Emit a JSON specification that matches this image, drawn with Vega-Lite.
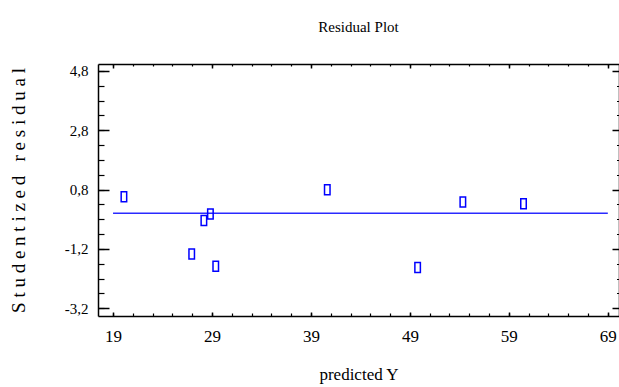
{
  "$schema": "https://vega.github.io/schema/vega-lite/v6.json",
  "width": 521,
  "height": 252,
  "autosize": {"type": "none"},
  "padding": {"left": 98, "top": 64, "right": 0, "bottom": 71},
  "background": "white",
  "config": {
    "font": "Liberation Serif, Times New Roman, serif",
    "view": {"stroke": null},
    "axis": {"grid": false, "labelFont": "Liberation Serif, Times New Roman, serif", "titleFont": "Liberation Serif, Times New Roman, serif", "labelColor": "black", "titleColor": "black", "domainColor": "black", "tickColor": "black", "labelFlush": false, "labelOverlap": false, "titleFontWeight": "normal"}
  },
  "title": {"text": "Residual Plot", "font": "Liberation Serif, Times New Roman, serif", "fontSize": 15, "fontWeight": "normal", "color": "black", "anchor": "middle", "offset": 28},
  "data": {"values": [
    {"predicted": 20.1, "resid": 0.56},
    {"predicted": 26.95, "resid": -1.37},
    {"predicted": 28.18, "resid": -0.24},
    {"predicted": 28.84, "resid": -0.02},
    {"predicted": 29.38, "resid": -1.78},
    {"predicted": 40.65, "resid": 0.79},
    {"predicted": 49.78, "resid": -1.83},
    {"predicted": 54.35, "resid": 0.38},
    {"predicted": 60.48, "resid": 0.32}
  ]},
  "layer": [
    {
      "data": {"values": [{"x0": 19, "x1": 69, "y": 0}]},
      "mark": {"type": "rule", "color": "#2a2aff", "strokeWidth": 1.6},
      "encoding": {
        "x": {"field": "x0", "type": "quantitative", "scale": {"domain": [17.48, 70.13], "nice": false, "zero": false},
          "axis": {"orient": "bottom", "values": [19, 29, 39, 49, 59, 69], "ticks": false, "domain": true, "domainWidth": 1.5, "labelFontSize": 17, "labelPadding": 12, "labelExpr": "datum.value + ''", "title": "predicted Y", "titleFontSize": 17, "titleBaseline": "middle", "titleY": 58}},
        "x2": {"field": "x1"},
        "y": {"field": "y", "type": "quantitative", "scale": {"domain": [-3.46, 5.03], "nice": false, "zero": false},
          "axis": {"orient": "left", "values": [-3.2, -1.2, 0.8, 2.8, 4.8], "ticks": false, "domain": true, "domainWidth": 1.5, "labelFontSize": 15, "labelPadding": 10, "labelExpr": "(datum.value < 0 ? '-' : '') + replace(format(abs(datum.value), '.1f'), '.', ',')", "title": "S t u d e n t i z e d\u00a0\u00a0 r e s i d u a l", "titleFontSize": 19, "titleBaseline": "middle", "titleX": -80, "titleY": 126}}
      }
    },
    {
      "mark": {"type": "point", "shape": "M-0.55,-1H0.55V1H-0.55Z", "filled": false, "color": "#0000ff", "strokeWidth": 1.5, "size": 100, "opacity": 1},
      "encoding": {
        "x": {"field": "predicted", "type": "quantitative", "scale": {"domain": [17.48, 70.13], "nice": false, "zero": false},
          "axis": {"orient": "bottom", "values": [19, 29, 39, 49, 59, 69], "tickSize": -4, "tickWidth": 1.5, "labels": false, "domain": false, "title": null}},
        "y": {"field": "resid", "type": "quantitative", "scale": {"domain": [-3.46, 5.03], "nice": false, "zero": false},
          "axis": {"orient": "left", "values": [-3.2, -1.2, 0.8, 2.8, 4.8], "tickSize": -11, "tickWidth": 1.5, "labels": false, "domain": false, "title": null}}
      }
    },
    {
      "mark": {"type": "point", "opacity": 0},
      "encoding": {
        "x": {"field": "predicted", "type": "quantitative", "scale": {"domain": [17.48, 70.13], "nice": false, "zero": false},
          "axis": {"orient": "bottom", "values": [19, 21, 23, 25, 27, 29, 31, 33, 35, 37, 39, 41, 43, 45, 47, 49, 51, 53, 55, 57, 59, 61, 63, 65, 67, 69], "tickSize": -3, "tickWidth": 1.2, "labels": false, "domain": false, "title": null}},
        "y": {"field": "resid", "type": "quantitative", "scale": {"domain": [-3.46, 5.03], "nice": false, "zero": false},
          "axis": {"orient": "left", "values": [-3.2, -2.7, -2.2, -1.7, -1.2, -0.7, -0.2, 0.3, 0.8, 1.3, 1.8, 2.3, 2.8, 3.3, 3.8, 4.3, 4.8], "tickSize": -6, "tickWidth": 1.2, "labels": false, "domain": false, "title": null}}
      }
    },
    {
      "mark": {"type": "point", "opacity": 0},
      "encoding": {
        "x": {"field": "predicted", "type": "quantitative", "scale": {"domain": [17.48, 70.13], "nice": false, "zero": false},
          "axis": {"orient": "top", "values": [19, 29, 39, 49, 59, 69], "tickSize": -4, "tickWidth": 1.5, "labels": false, "domain": true, "domainWidth": 1.5, "title": null}},
        "y": {"field": "resid", "type": "quantitative", "scale": {"domain": [-3.46, 5.03], "nice": false, "zero": false},
          "axis": {"orient": "right", "values": [-3.2, -1.2, 0.8, 2.8, 4.8], "tickSize": -7, "tickWidth": 1.5, "labels": false, "domain": true, "domainWidth": 1.5, "title": null}}
      }
    },
    {
      "mark": {"type": "point", "opacity": 0},
      "encoding": {
        "x": {"field": "predicted", "type": "quantitative", "scale": {"domain": [17.48, 70.13], "nice": false, "zero": false},
          "axis": {"orient": "top", "values": [19, 21, 23, 25, 27, 29, 31, 33, 35, 37, 39, 41, 43, 45, 47, 49, 51, 53, 55, 57, 59, 61, 63, 65, 67, 69], "tickSize": -2, "tickWidth": 1.2, "labels": false, "domain": false, "title": null}},
        "y": {"field": "resid", "type": "quantitative", "scale": {"domain": [-3.46, 5.03], "nice": false, "zero": false},
          "axis": {"orient": "right", "values": [-3.2, -2.7, -2.2, -1.7, -1.2, -0.7, -0.2, 0.3, 0.8, 1.3, 1.8, 2.3, 2.8, 3.3, 3.8, 4.3, 4.8], "tickSize": -2.5, "tickWidth": 1.2, "labels": false, "domain": false, "title": null}}
      }
    }
  ],
  "resolve": {"axis": {"x": "independent", "y": "independent"}}
}
